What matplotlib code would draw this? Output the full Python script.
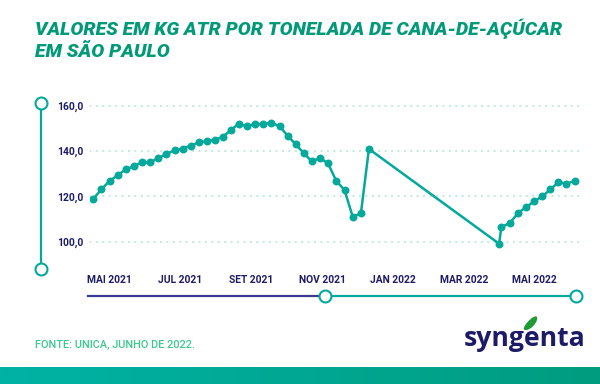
import numpy as np
import matplotlib
matplotlib.use("Agg")
import matplotlib.pyplot as plt
from matplotlib.lines import Line2D
from matplotlib.patches import Polygon
from matplotlib.colors import LinearSegmentedColormap
import calendar

# ---------------- data ----------------
dates = [
    "2021-04-17", "2021-04-24", "2021-05-01", "2021-05-08", "2021-05-15", "2021-05-22",
    "2021-05-29", "2021-06-05", "2021-06-12", "2021-06-19", "2021-06-26", "2021-07-03",
    "2021-07-10", "2021-07-17", "2021-07-24", "2021-07-31", "2021-08-07", "2021-08-14",
    "2021-08-21", "2021-08-28", "2021-09-04", "2021-09-11", "2021-09-18", "2021-09-25",
    "2021-10-02", "2021-10-09", "2021-10-16", "2021-10-23", "2021-10-30", "2021-11-06",
    "2021-11-13", "2021-11-20", "2021-11-27", "2021-12-04", "2021-12-11",
    "2022-04-01", "2022-04-03", "2022-04-10", "2022-04-17", "2022-04-24", "2022-05-01",
    "2022-05-08", "2022-05-15", "2022-05-22", "2022-05-29", "2022-06-05",
]
values = [
    118.8, 123.1, 126.8, 129.3, 131.9, 133.2, 135.0, 135.0, 136.8, 138.7, 140.3, 141.0,
    142.4, 143.8, 144.3, 144.9, 146.3, 149.1, 152.1, 150.9, 151.9, 151.9, 152.5, 150.9,
    146.6, 142.9, 139.0, 135.4, 136.9, 134.6, 126.8, 122.8, 110.9, 112.5, 140.9,
    99.1, 106.6, 108.1, 112.6, 115.3, 117.9, 120.0, 123.1, 126.3, 125.6, 126.8,
]
xtick_months = [0, 2, 4, 6, 8, 10, 12]
xtick_labels = ["MAI 2021", "JUL 2021", "SET 2021", "NOV 2021", "JAN 2022", "MAR 2022", "MAI 2022"]
ytick_values = [100, 120, 140, 160]
ytick_labels = ["100,0", "120,0", "140,0", "160,0"]

title_lines = ["VALORES EM KG ATR POR TONELADA DE CANA-DE-AÇÚCAR", "EM SÃO PAULO"]
source = "FONTE: UNICA, JUNHO DE 2022."

# months since May 2021 (each month has equal width on the axis)
def month_pos(s):
    y, m, d = map(int, s.split("-"))
    return (y - 2021) * 12 + (m - 5) + (d - 1) / calendar.monthrange(y, m)[1]

xs = [month_pos(s) for s in dates]

# ---------------- style ----------------
TEAL = "#04a99c"
NAVY = "#1d1b66"
TITLE_GREEN = "#009a78"
GRID = "#ade5d2"

W, H = 600, 384
fig = plt.figure(figsize=(6, 3.84), dpi=100)
fig.patch.set_facecolor("white")

def fx(px):
    return px / W

def fy(py):
    return 1 - py / H

# main axes: x 90..582 px, y 100..262 px
ax = fig.add_axes([fx(90), fy(262), fx(582) - fx(90), (262 - 100) / H])
ax.set_facecolor("none")
ax.set_xlim(-0.556, 13.342)
ax.set_ylim(91.03, 162.5)
for sp in ax.spines.values():
    sp.set_visible(False)

for v in ytick_values:
    ax.axhline(v, color=GRID, lw=1.1, linestyle=(0, (0.6, 3.6)), dash_capstyle="round", zorder=1)

ax.plot(xs, values, color=TEAL, lw=1.8, marker="o", markersize=5.7,
        markeredgewidth=0, markerfacecolor=TEAL, zorder=3, solid_joinstyle="round")

ax.set_xticks(xtick_months)
ax.set_xticklabels(xtick_labels)
ax.set_yticks(ytick_values)
ax.set_yticklabels(ytick_labels)
ax.tick_params(length=0)
ax.tick_params(axis="x", pad=9.5)
ax.tick_params(axis="y", pad=5)
for lab in ax.get_xticklabels() + ax.get_yticklabels():
    lab.set_fontfamily(["Roboto", "DejaVu Sans"])
    lab.set_fontweight("bold")
    lab.set_fontsize(7.4)
    lab.set_color(NAVY)

# ---------------- decorations ----------------
# left vertical connector
fig.add_artist(Line2D([fx(41), fx(41)], [fy(102.5), fy(268.5)], color=TEAL, lw=1.6, zorder=2))
for py in (102.5, 268.5):
    fig.add_artist(Line2D([fx(41)], [fy(py)], marker="o", markersize=8.6, markerfacecolor="white",
                          markeredgecolor=TEAL, markeredgewidth=1.5, lw=0, zorder=3))

# bottom timeline
fig.add_artist(Line2D([fx(88), fx(325)], [fy(296.3), fy(296.3)], color="#3d3a94", lw=1.6))
fig.add_artist(Line2D([fx(325), fx(576)], [fy(296.3), fy(296.3)], color=TEAL, lw=1.6))
for px in (325, 576):
    fig.add_artist(Line2D([fx(px)], [fy(296.3)], marker="o", markersize=8.6, markerfacecolor="white",
                          markeredgecolor=TEAL, markeredgewidth=1.5, lw=0, zorder=3))

# title
for line, base in zip(title_lines, (35, 57)):
    fig.text(fx(35), fy(base), line, fontsize=13.95, fontweight="black", style="italic",
             color=TITLE_GREEN, family=["Roboto", "DejaVu Sans"], ha="left", va="baseline")

# source
fig.text(fx(35), fy(345), source, fontsize=7.9, fontweight="medium", color="#3cc98e",
         family=["Roboto", "DejaVu Sans"], ha="left", va="center")

# logo
fig.text(fx(464), fy(345.5), "syngenta", fontsize=19.2, fontweight="bold", color=NAVY,
         family=["Open Sans", "DejaVu Sans"], ha="left", va="baseline")
t = np.linspace(0, np.pi, 20)
p0 = np.array([524.0, 329.5]); p1 = np.array([536.5, 316.5])
d = p1 - p0; L = np.hypot(*d); u = d / L; nrm = np.array([-u[1], u[0]])
side1 = [p0 + u * L * (1 - np.cos(a)) / 2 + nrm * 4.2 * np.sin(a) for a in t]
side2 = [p0 + u * L * (1 - np.cos(a)) / 2 - nrm * 2.6 * np.sin(a) for a in t[::-1]]
pts = np.array(side1 + side2)
fig.add_artist(Polygon(np.column_stack([fx(pts[:, 0]), fy(pts[:, 1])]), closed=True,
                       facecolor="#1f9a35", edgecolor="none", transform=fig.transFigure))

# bottom gradient band
bax = fig.add_axes([0, 0, 1, 17 / H])
grad = np.linspace(0, 1, 256).reshape(1, -1)
cmap = LinearSegmentedColormap.from_list("band", ["#00b3a5", "#009c80"])
bax.imshow(grad, aspect="auto", cmap=cmap, extent=[0, 1, 0, 1])
bax.axis("off")

fig.savefig("out.png", dpi=100, facecolor="white")
